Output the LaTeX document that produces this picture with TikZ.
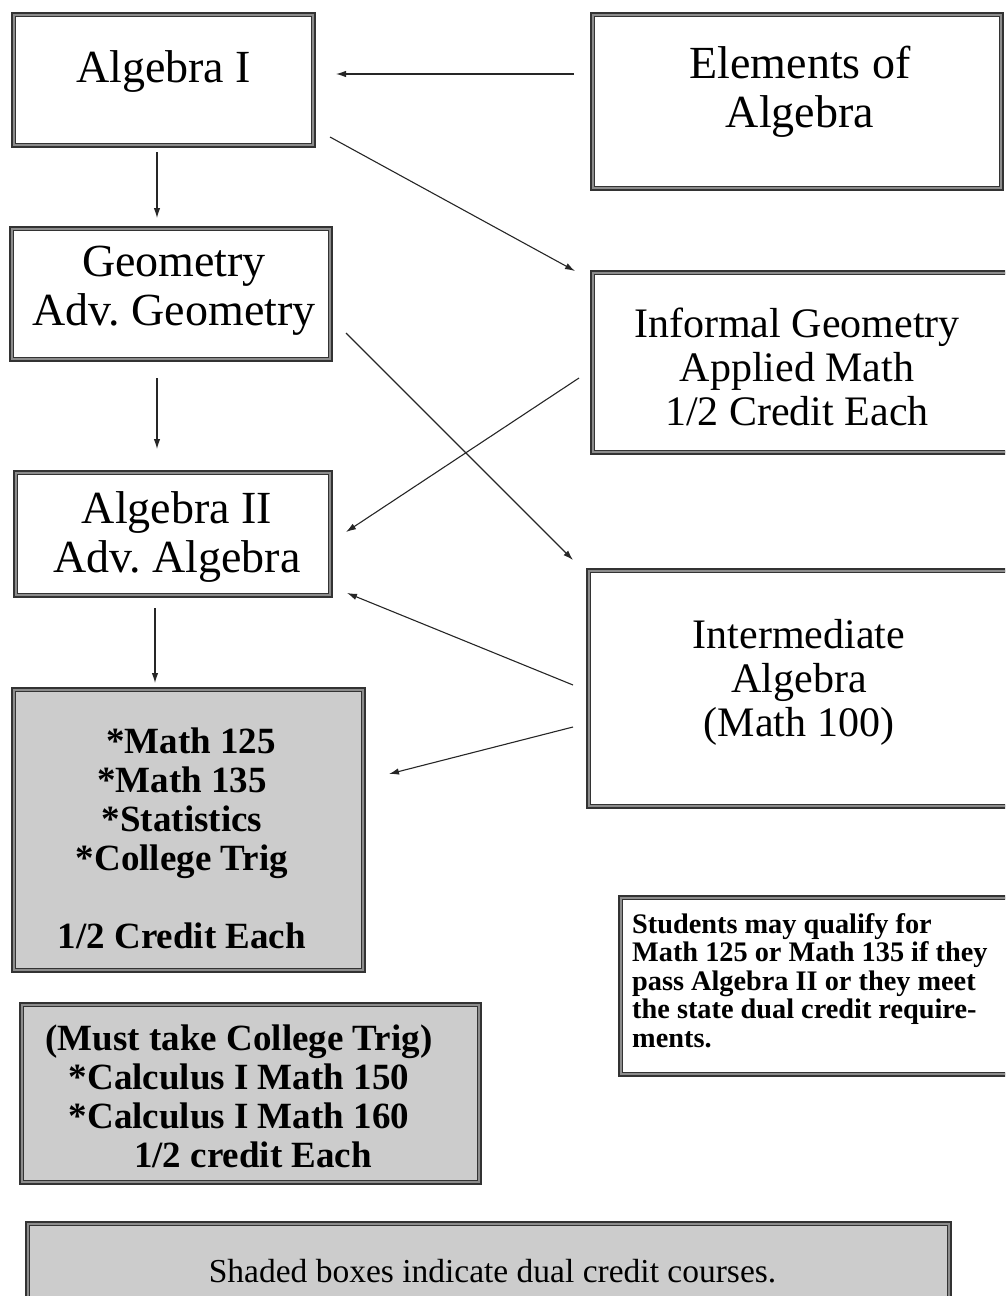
\documentclass[tikz,border=0pt]{standalone}
\usepackage{fontspec}
\setmainfont{Liberation Serif}
\usetikzlibrary{calc,arrows.meta}
\frenchspacing

\begin{document}
\begin{tikzpicture}[x=1pt,y=-1pt,
    box/.style={rectangle, draw=black!80, double=black!45, line width=1.6pt,
      double distance=2.2pt, inner sep=0pt, outer sep=0pt},
    dualbox/.style={box, fill=black!20},
    arr/.style={-{Latex[length=10pt,width=6.5pt]}, line width=1.1pt, black!85},
    big/.style={font=\fontsize{46}{49}\selectfont, align=center, anchor=base, inner sep=0pt},
    mid/.style={font=\fontsize{42}{44}\selectfont, align=center, anchor=base, inner sep=0pt},
    dual/.style={font=\bfseries\fontsize{37}{39}\selectfont, align=center, anchor=base, inner sep=0pt}]
    \useasboundingbox (0,0) rectangle (1005,1296);
    \clip (0,0) rectangle (1005,1296);

    % left column
    \node[box, minimum width=299.6pt, minimum height=130.6pt] (alg1) at (163.5,80) {};
    \node[box, minimum width=318.6pt, minimum height=130.6pt] (geom) at (171,294) {};
    \node[box, minimum width=314.6pt, minimum height=122.6pt] (alg2) at (173,534) {};
    \node[dualbox, minimum width=349.6pt, minimum height=280.6pt] (dual1) at (188.5,830) {};
    \node[dualbox, minimum width=457.6pt, minimum height=177.6pt] (dual2) at (250.5,1093.5) {};

    % right column
    \node[box, minimum width=408.6pt, minimum height=173.6pt] (elem) at (797,101.5) {};
    \node[box, minimum width=424.6pt, minimum height=179.6pt] (infgeo) at (805,362.5) {};
    \node[box, minimum width=428.6pt, minimum height=235.6pt] (inter) at (803,688.5) {};
    \node[box, minimum width=396.6pt, minimum height=176.6pt] (stud) at (819,986) {};

    % legend
    \node[dualbox, minimum width=921.6pt, minimum height=103.6pt] (note) at (488.5,1275.5) {};

    % texts (base = last line)
    \node[big] (alg1txt) at (163.5,82) {Algebra I};
    \node[big] (geomtxt) at (174,325) {Geometry\\Adv. Geometry};
    \node[big] (alg2txt) at (177,572) {Algebra II\\Adv. Algebra};
    \node[big] (elemtxt) at (800,127) {Elements of\\Algebra};
    \node[mid] (infgeotxt) at (797,425) {Informal Geometry\\Applied Math\\1/2 Credit Each};
    \node[mid] (intertxt) at (799,736) {Intermediate\\Algebra\\(Math 100)};
    \node[dual] (dual1txt) at (182,948) {\hspace*{18pt}*Math 125\\{}*Math 135\\{}*Statistics\\{}*College Trig\\[39pt]1/2 Credit Each};
    \node[dual] (dual2txt) at (239,1167) {(Must take College Trig)\\{}*Calculus I Math 150\\{}*Calculus I Math 160\\\hspace*{28pt}1/2 credit Each};
    \node[font=\bfseries\fontsize{28.3}{28.5}\selectfont, align=left, anchor=base west, inner sep=0pt] (studtxt) at (632,1047)
      {Students may qualify for\\Math 125 or Math 135 if they\\pass Algebra II or they meet\\the state dual credit require-\\ments.};
    \node[font=\fontsize{33.5}{35}\selectfont, anchor=base, inner sep=0pt] (notetxt) at (492.5,1282) {Shaded boxes indicate dual credit courses.};

    % arrows
    \draw[arr] ($(elem.west)+(-18.7,-27.5)$) -- ($(alg1.east)+(22.7,-6)$);
    \draw[arr] ($(alg1.south east)+(16.7,-8.3)$) -- ($(infgeo.north west)+(-17.7,-1.7)$);
    \draw[arr] ($(alg1.south)+(-6.5,6.7)$) -- ($(geom.north)+(-14,-10.7)$);
    \draw[arr] ($(geom.south)+(-14,18.7)$) -- ($(alg2.north)+(-16,-23.7)$);
    \draw[arr] ($(alg2.south)+(-18,12.7)$) -- ($(dual1.north)+(-33.5,-6.7)$);
    \draw[arr] ($(geom.east)+(15.7,39)$) -- ($(inter.north west)+(-15.7,-10.7)$);
    \draw[arr] ($(infgeo.west)+(-13.7,15.5)$) -- ($(alg2.east)+(15.7,-2)$);
    \draw[arr] ($(inter.west)+(-15.7,-3.5)$) -- ($(alg2.south east)+(16.7,-2.3)$);
    \draw[arr] ($(inter.west)+(-15.7,38.5)$) -- ($(dual1.east)+(25.7,-56)$);
  \end{tikzpicture}
\end{document}
